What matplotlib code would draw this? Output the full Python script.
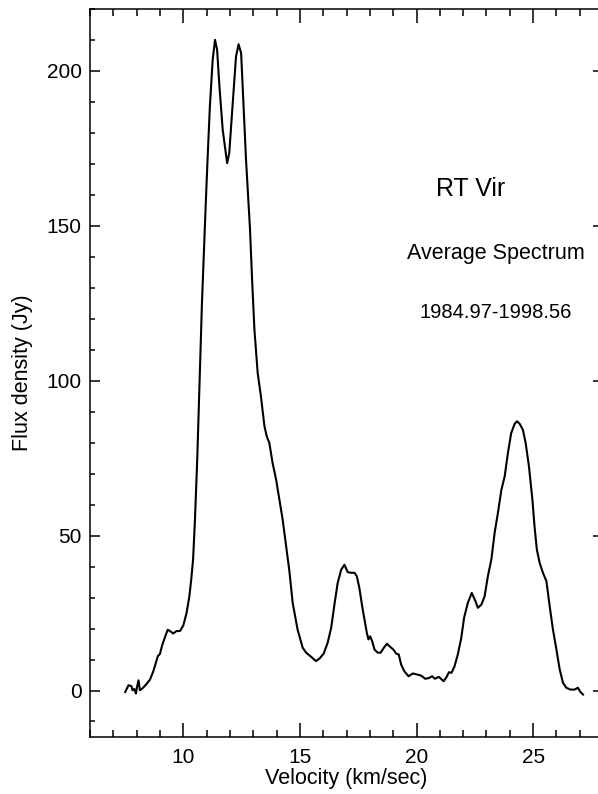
import matplotlib
matplotlib.use("Agg")
import matplotlib.pyplot as plt
from matplotlib.ticker import MultipleLocator

plt.rcParams["font.family"] = ["Liberation Sans", "DejaVu Sans"]

# averaged spectrum: velocity (km/s) vs flux density (Jy)
velocity = [
    7.51, 7.65, 7.78, 7.82, 7.90, 7.97, 8.01, 8.08, 8.14, 8.25, 8.40, 8.57,
    8.71, 8.80, 8.91, 9.00, 9.09, 9.20, 9.33, 9.43, 9.57, 9.71, 9.86, 10.00,
    10.14, 10.26, 10.34, 10.42, 10.50, 10.60, 10.70, 10.80, 10.90, 10.97,
    11.04, 11.14, 11.26, 11.36, 11.45, 11.55, 11.69, 11.88, 11.97, 12.12,
    12.26, 12.37, 12.48, 12.58, 12.69, 12.79, 12.86, 12.95, 13.05, 13.19,
    13.33, 13.48, 13.58, 13.69, 13.83, 13.98, 14.12, 14.26, 14.41, 14.55,
    14.69, 14.90, 15.12, 15.27, 15.48, 15.69, 15.84, 16.02, 16.19, 16.34,
    16.48, 16.62, 16.77, 16.91, 17.05, 17.20, 17.34, 17.44, 17.55, 17.67,
    17.77, 17.87, 17.94, 18.01, 18.10, 18.20, 18.34, 18.46, 18.60, 18.73,
    18.87, 19.01, 19.13, 19.24, 19.34, 19.48, 19.66, 19.84, 20.01, 20.20,
    20.37, 20.52, 20.67, 20.79, 20.96, 21.16, 21.27, 21.39, 21.50, 21.63,
    21.77, 21.92, 22.04, 22.20, 22.37, 22.53, 22.63, 22.78, 22.92, 23.06,
    23.21, 23.35, 23.49, 23.64, 23.78, 23.92, 24.06, 24.21, 24.31, 24.42,
    24.56, 24.68, 24.82, 24.97, 25.06, 25.16, 25.28, 25.42, 25.57, 25.71,
    25.85, 26.00, 26.14, 26.28, 26.42, 26.60, 26.78, 26.92, 27.02, 27.14,
]
flux = [
    -0.5, 1.7, 1.4, 0.1, 0.5, -1.0, 0.9, 3.3, 0.1, 0.7, 1.9, 3.5,
    6.1, 8.4, 11.1, 11.8, 14.5, 16.9, 19.6, 19.2, 18.4, 19.2, 19.2, 21.0,
    25.0, 30.4, 35.8, 42.3, 55.0, 75.0, 100.0, 125.0, 145.0, 158.4,
    171.3, 188.5, 203.5, 210.0, 206.8, 195.0, 181.0, 170.2, 173.4, 189.6,
    204.6, 208.6, 205.7, 189.6, 171.3, 158.4, 149.0, 132.6, 116.5, 102.5,
    94.9, 85.3, 82.0, 79.9, 73.4, 68.1, 61.6, 55.2, 46.5, 38.5,
    28.3, 19.7, 13.8, 12.2, 10.9, 9.5, 10.3, 11.9, 15.4, 20.2,
    27.7, 34.7, 39.0, 40.6, 38.2, 38.0, 38.0, 36.9, 33.1, 27.2,
    22.9, 18.6, 16.5, 17.5, 15.9, 13.2, 12.2, 12.2, 13.8, 15.1,
    14.1, 13.2, 11.9, 11.6, 8.4, 6.2, 4.6, 5.5, 5.2, 4.8,
    3.8, 4.0, 4.6, 3.8, 4.4, 3.0, 4.1, 5.9, 5.7, 7.8,
    11.6, 17.0, 23.5, 28.3, 31.5, 28.8, 26.7, 27.7, 30.4, 36.9,
    42.3, 50.9, 57.3, 64.8, 69.1, 76.7, 83.1, 86.1, 86.9, 86.1,
    84.2, 79.9, 72.4, 61.6, 53.0, 45.5, 41.2, 38.0, 35.3, 27.2,
    19.7, 13.2, 6.8, 2.5, 0.9, 0.3, 0.3, 0.9, -0.4, -1.3,
]

fig = plt.figure(figsize=(5.98, 7.94), dpi=100)
ax = fig.add_axes([0.1505, 0.0718, 0.858, 0.917])

ax.plot(velocity, flux, color="black", linewidth=1.5)

ax.set_xlim(6, 28)
ax.set_ylim(-15, 220)
ax.xaxis.set_major_locator(MultipleLocator(5))
ax.xaxis.set_minor_locator(MultipleLocator(1))
ax.yaxis.set_major_locator(MultipleLocator(50))
ax.yaxis.set_minor_locator(MultipleLocator(10))
ax.tick_params(which="both", direction="in", top=True, right=True,
               width=1.1, labelsize=15)
ax.tick_params(axis="x", which="major", length=10, pad=8)
ax.tick_params(axis="x", which="minor", length=5)
ax.tick_params(axis="y", which="major", length=7, pad=6)
ax.tick_params(axis="y", which="minor", length=3.5)
for sp in ax.spines.values():
    sp.set_linewidth(1.1)

ax.set_xlabel("Velocity (km/sec)", fontsize=15.5, labelpad=1)
ax.set_ylabel("Flux density (Jy)", fontsize=15.5, labelpad=10)

ax.text(22.3, 162, "RT Vir", fontsize=18, ha="center", va="center")
ax.text(23.4, 141, "Average Spectrum", fontsize=15.5, ha="center", va="center")
ax.text(23.4, 122, "1984.97-1998.56", fontsize=14.5, ha="center", va="center")

fig.savefig("out.png", dpi=100)
